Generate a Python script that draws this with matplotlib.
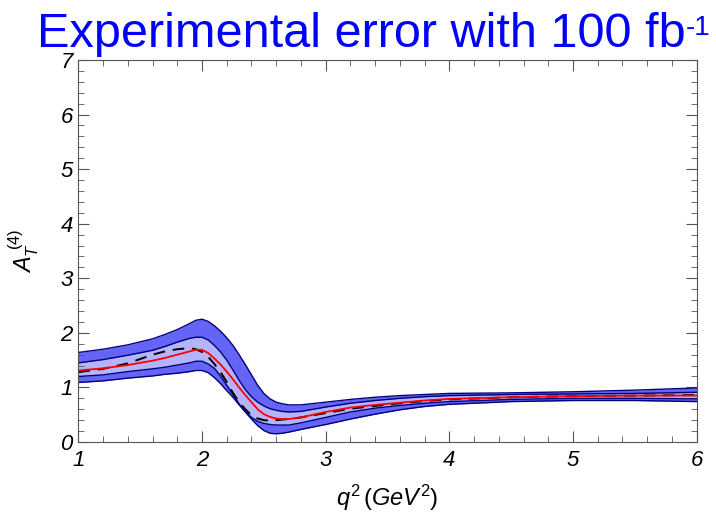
import matplotlib
matplotlib.use("Agg")
import matplotlib.pyplot as plt
from matplotlib.ticker import MultipleLocator

plt.rcParams["font.family"] = ["Liberation Sans", "DejaVu Sans"]
plt.rcParams["mathtext.fontset"] = "custom"
plt.rcParams["mathtext.rm"] = "Liberation Sans"
plt.rcParams["mathtext.it"] = "Liberation Sans:italic"

# q^2 grid (GeV^2)
q2 = [1.0, 1.2, 1.4, 1.6, 1.7, 1.8, 1.9, 1.95, 2.0, 2.05, 2.1, 2.15, 2.2, 2.25, 2.3, 2.35, 2.4,
      2.45, 2.5, 2.55, 2.6, 2.65, 2.7, 2.8, 3.0, 3.2, 3.4, 3.6, 3.8, 4.0, 4.5, 5.0, 5.5, 6.0]

# outer band
outer_hi = [1.64, 1.70, 1.78, 1.89, 1.97, 2.06, 2.17, 2.23, 2.25, 2.21, 2.13, 2.03, 1.91, 1.77,
            1.60, 1.42, 1.23, 1.04, 0.89, 0.79, 0.73, 0.70, 0.68, 0.68, 0.73, 0.78, 0.82, 0.85,
            0.87, 0.89, 0.90, 0.92, 0.95, 0.99]
outer_lo = [1.09, 1.12, 1.17, 1.21, 1.24, 1.26, 1.29, 1.31, 1.31, 1.27, 1.18, 1.07, 0.94, 0.82,
            0.68, 0.55, 0.42, 0.30, 0.21, 0.16, 0.15, 0.16, 0.18, 0.23, 0.32, 0.42, 0.51, 0.59,
            0.65, 0.69, 0.74, 0.76, 0.76, 0.74]

# inner band
inner_hi = [1.45, 1.51, 1.59, 1.68, 1.75, 1.83, 1.90, 1.92, 1.92, 1.87, 1.77, 1.65, 1.50, 1.32,
            1.13, 0.96, 0.83, 0.73, 0.66, 0.61, 0.58, 0.56, 0.55, 0.56, 0.64, 0.71, 0.76, 0.80,
            0.83, 0.85, 0.87, 0.88, 0.89, 0.91]
inner_lo = [1.20, 1.23, 1.29, 1.34, 1.37, 1.41, 1.45, 1.48, 1.48, 1.43, 1.35, 1.21, 1.04, 0.87,
            0.70, 0.56, 0.45, 0.38, 0.34, 0.32, 0.31, 0.31, 0.31, 0.35, 0.45, 0.55, 0.62, 0.67,
            0.71, 0.74, 0.78, 0.80, 0.80, 0.79]

# central value (red) and reference curve (dashed)
central = [1.31, 1.35, 1.41, 1.49, 1.54, 1.60, 1.66, 1.69, 1.69, 1.63, 1.53, 1.42, 1.29, 1.15,
           1.00, 0.86, 0.73, 0.60, 0.51, 0.46, 0.43, 0.42, 0.42, 0.45, 0.55, 0.63, 0.68, 0.72,
           0.76, 0.79, 0.82, 0.84, 0.85, 0.85]
reference = [1.28, 1.34, 1.44, 1.60, 1.66, 1.70, 1.72, 1.70, 1.65, 1.56, 1.43, 1.28, 1.10, 0.90,
             0.73, 0.60, 0.49, 0.43, 0.40, 0.39, 0.40, 0.41, 0.42, 0.45, 0.53, 0.61, 0.66, 0.71,
             0.75, 0.78, 0.82, 0.84, 0.85, 0.86]

fig = plt.figure(figsize=(7.16, 5.19), dpi=100)
ax = fig.add_axes([0.1094, 0.1484, 0.8636, 0.736])

edge = "#000080"
ax.fill_between(q2, outer_lo, outer_hi, color="#6464f5", lw=0)
ax.fill_between(q2, inner_lo, inner_hi, color="#b4b4fa", lw=0)
for band in (outer_hi, outer_lo, inner_hi, inner_lo):
    ax.plot(q2, band, color=edge, lw=1.0)
ax.plot(q2, reference, color="black", lw=1.4, ls=(0, (6, 4)))
ax.plot(q2, central, color="red", lw=1.3)

ax.set_xlim(1, 6)
ax.set_ylim(0, 7)
ax.xaxis.set_major_locator(MultipleLocator(1))
ax.xaxis.set_minor_locator(MultipleLocator(0.2))
ax.yaxis.set_major_locator(MultipleLocator(1))
ax.yaxis.set_minor_locator(MultipleLocator(0.2))
ax.tick_params(which="both", direction="in", top=True, right=True, color="#555555")
ax.tick_params(which="major", length=8, width=0.8)
ax.tick_params(which="minor", length=4, width=0.6)
ax.tick_params(axis="x", labelsize=16, pad=6)
ax.tick_params(axis="y", labelsize=16, pad=4)
for lab in ax.get_xticklabels() + ax.get_yticklabels():
    lab.set_fontstyle("italic")
for s in ax.spines.values():
    s.set_color("#555555")
    s.set_linewidth(0.8)

ax.set_xlabel(r"$q^2\,(GeV^2)$", fontsize=17, labelpad=8)
ax.set_ylabel(r"$A_T^{\ (4)}$", fontsize=17, labelpad=14)

# title with a small "-1" superscript
title = fig.text(0.051, 0.977, "Experimental error with 100 fb", color="#0000ff",
                 fontsize=35, ha="left", va="top")
fig.canvas.draw()
bb = title.get_window_extent().transformed(fig.transFigure.inverted())
fig.text(bb.x1 + 0.001, bb.y1 - 0.006, "-1", color="#0000ff", fontsize=20, ha="left", va="top")

fig.savefig("out.png", dpi=100)
